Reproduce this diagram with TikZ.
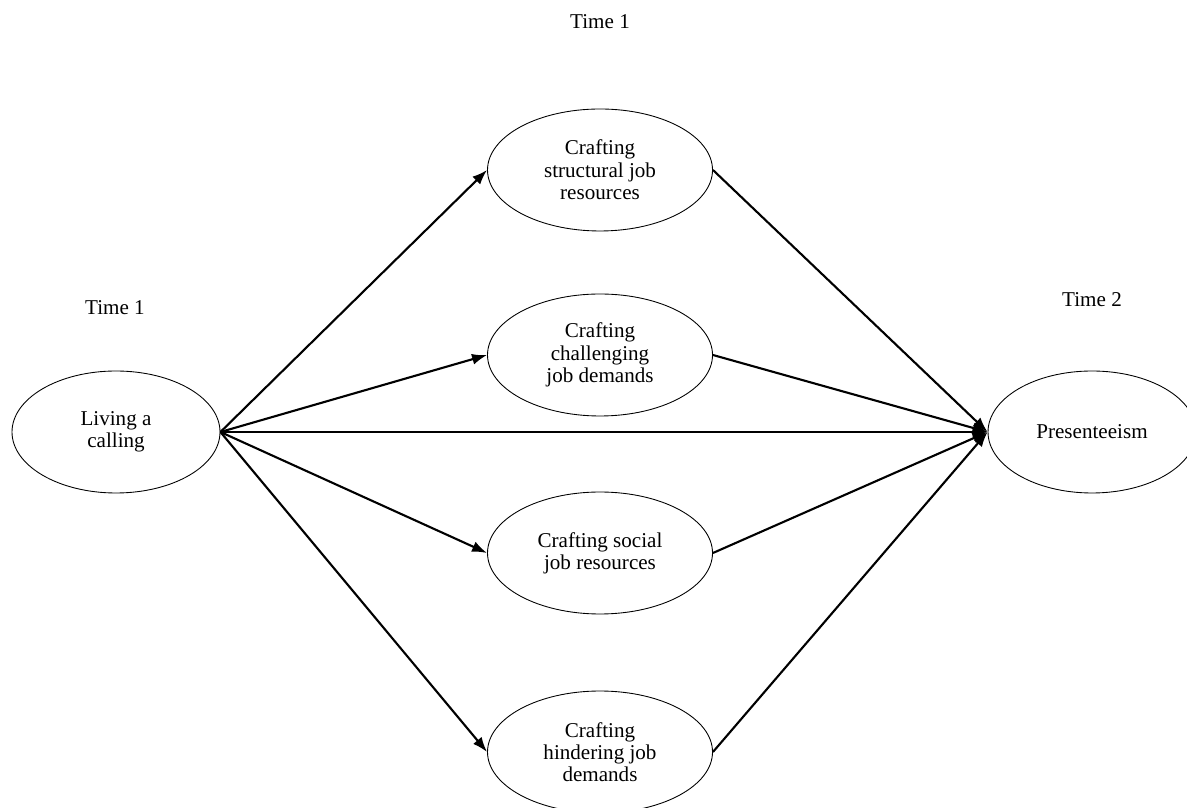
\documentclass[tikz,border=0pt]{standalone}
\usepackage{fontspec}
\setmainfont{Liberation Serif}
\usetikzlibrary{shapes}
\usetikzlibrary{arrows.meta}

\begin{document}
\begin{tikzpicture}

\tikzstyle{outer}=[ellipse, minimum width = 41.6mm, minimum height = 24.4mm, inner sep=0pt, draw =black, line width=0.5pt, align=center, font=\fontsize{12}{12.7}\selectfont]
\tikzstyle{mediator}=[ellipse, minimum width = 45mm, minimum height = 24.4mm, inner sep=0pt, draw =black, line width=0.5pt, align=center, font=\fontsize{12}{12.7}\selectfont]
\tikzstyle{wave}=[font=\fontsize{12}{12.7}\selectfont]

\tikzstyle{connect}=[-{Latex[length=3mm, width=2.2mm]}, line width=1.2pt]

\useasboundingbox (0,0) rectangle (23.74,16.14);

\node[outer] (calling) at (2.32,7.5)  {Living a\\calling};
\node[outer] (pres) at (21.84,7.5)  {Presenteeism};

\node[mediator] (structural) at (12,12.74)  {Crafting\\structural job\\resources};
\node[mediator] (challenging) at (12,9.04)  {Crafting\\challenging\\job demands};
\node[mediator] (social) at (12,5.08)  {Crafting social\\job resources};
\node[mediator] (hindering) at (12,1.1)  {Crafting\\hindering job\\demands};

\node[wave] (t1top) at (12,15.7)  {Time 1};
\node[wave] (t1left) at (2.3,9.98)  {Time 1};
\node[wave] (t2right) at (21.84,10.14)  {Time 2};

\path (calling.east) [connect]  edge (structural.west);
\path (calling.east) [connect]  edge (challenging.west);
\path (calling.east) [connect]  edge (pres.west);
\path (calling.east) [connect]  edge (social.west);
\path (calling.east) [connect]  edge (hindering.west);

\path (structural.east) [connect]  edge (pres.west);
\path (challenging.east) [connect]  edge (pres.west);
\path (social.east) [connect]  edge (pres.west);
\path (hindering.east) [connect]  edge (pres.west);

\end{tikzpicture}
\end{document}
